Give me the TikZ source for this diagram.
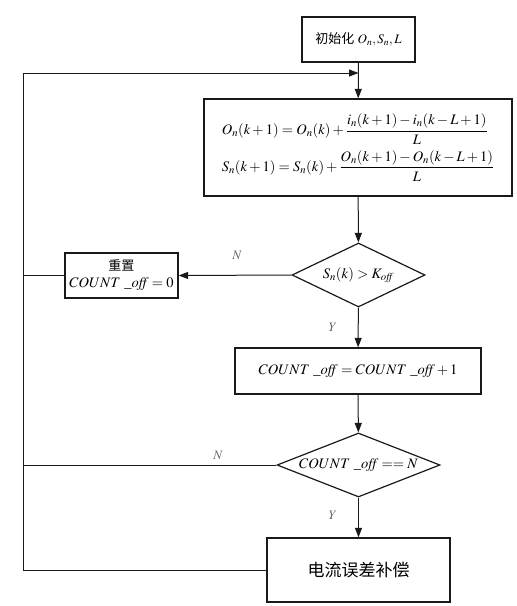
\documentclass[tikz,border=0pt]{standalone}
\usepackage{mathptmx}
\usepackage{fontspec}
\setmainfont{Liberation Serif}
\newfontfamily\cjk{Noto Sans CJK SC}
\usetikzlibrary{shapes.geometric,arrows.meta}
\begin{document}
\begin{tikzpicture}[x=1pt,y=-1pt,
  ln/.style={line width=1pt,draw=black!90},
  arr/.style={ln,-{Triangle[length=9.5pt,width=7pt]}},
  box/.style={draw=black!90,line width=1.3pt,rectangle,inner sep=0pt,font=\fontsize{14.5}{17}\selectfont},
  dia/.style={draw=black!90,line width=1.2pt,diamond,inner sep=0pt,font=\fontsize{14.5}{17}\selectfont},
  lab/.style={font=\fontsize{13}{14}\selectfont,text=black!60}]
\useasboundingbox (0,0) rectangle (517,606);
% nodes
\node[box,minimum width=113pt,minimum height=45pt,font=\fontsize{13}{15}\selectfont] (init) at (358.5,39.5)
  {{\cjk 初始化} $O_n,S_n,L$};
\node[box,minimum width=308pt,minimum height=97pt,align=left] (form) at (358,147.5)
  {$\displaystyle O_n(k+1)=O_n(k)+\frac{i_n(k+1)-i_n(k-L+1)}{L}$\\[5pt]
   $\displaystyle S_n(k+1)=S_n(k)+\frac{O_n(k+1)-O_n(k-L+1)}{L}$};
\node[dia,minimum width=133pt,minimum height=64pt] (d1) at (358.5,275)
  {\makebox[0pt]{$S_n(k)>K_{\mathit{off}}$}};
\node[box,minimum width=113pt,minimum height=45pt,align=center] (reset) at (121.5,275.5)
  {{\cjk\fontsize{13}{15}\selectfont 重置}\\$COUNT\ \_\mathit{off}=0$};
\node[box,minimum width=246pt,minimum height=46pt] (count) at (358,371)
  {$COUNT\ \_\mathit{off}=COUNT\ \_\mathit{off}+1$};
\node[dia,minimum width=163pt,minimum height=64pt] (d2) at (358.5,465)
  {\makebox[0pt]{$COUNT\ \_\mathit{off}==N$}};
\node[box,minimum width=183pt,minimum height=64pt,font=\fontsize{17}{19}\selectfont] (final) at (358.5,570)
  {\cjk 电流误差补偿};
\coordinate (L) at (23,73);
% labels
\node[lab] (n1) at (237,255) {$N$};
\node[lab] (y1) at (333,327) {$Y$};
\node[lab] (n2) at (218,455) {$N$};
\node[lab] (y2) at (333,515) {$Y$};
% connectors
\draw[arr] (init) -- (form);
\draw[arr] (form) -- (d1);
\draw[arr] (d1.west) -- (reset.east);
\draw[ln] (reset.west) -- (reset.west -| L);
\draw[arr] (d1) -- (count);
\draw[arr] (count) -- (d2);
\draw[ln] (d2.west) -- (d2.west -| L);
\draw[arr] (d2) -- (final);
\draw[arr] (final.west) -- (final.west -| L) -- (L) -- (init.south |- L);
\end{tikzpicture}
\end{document}
